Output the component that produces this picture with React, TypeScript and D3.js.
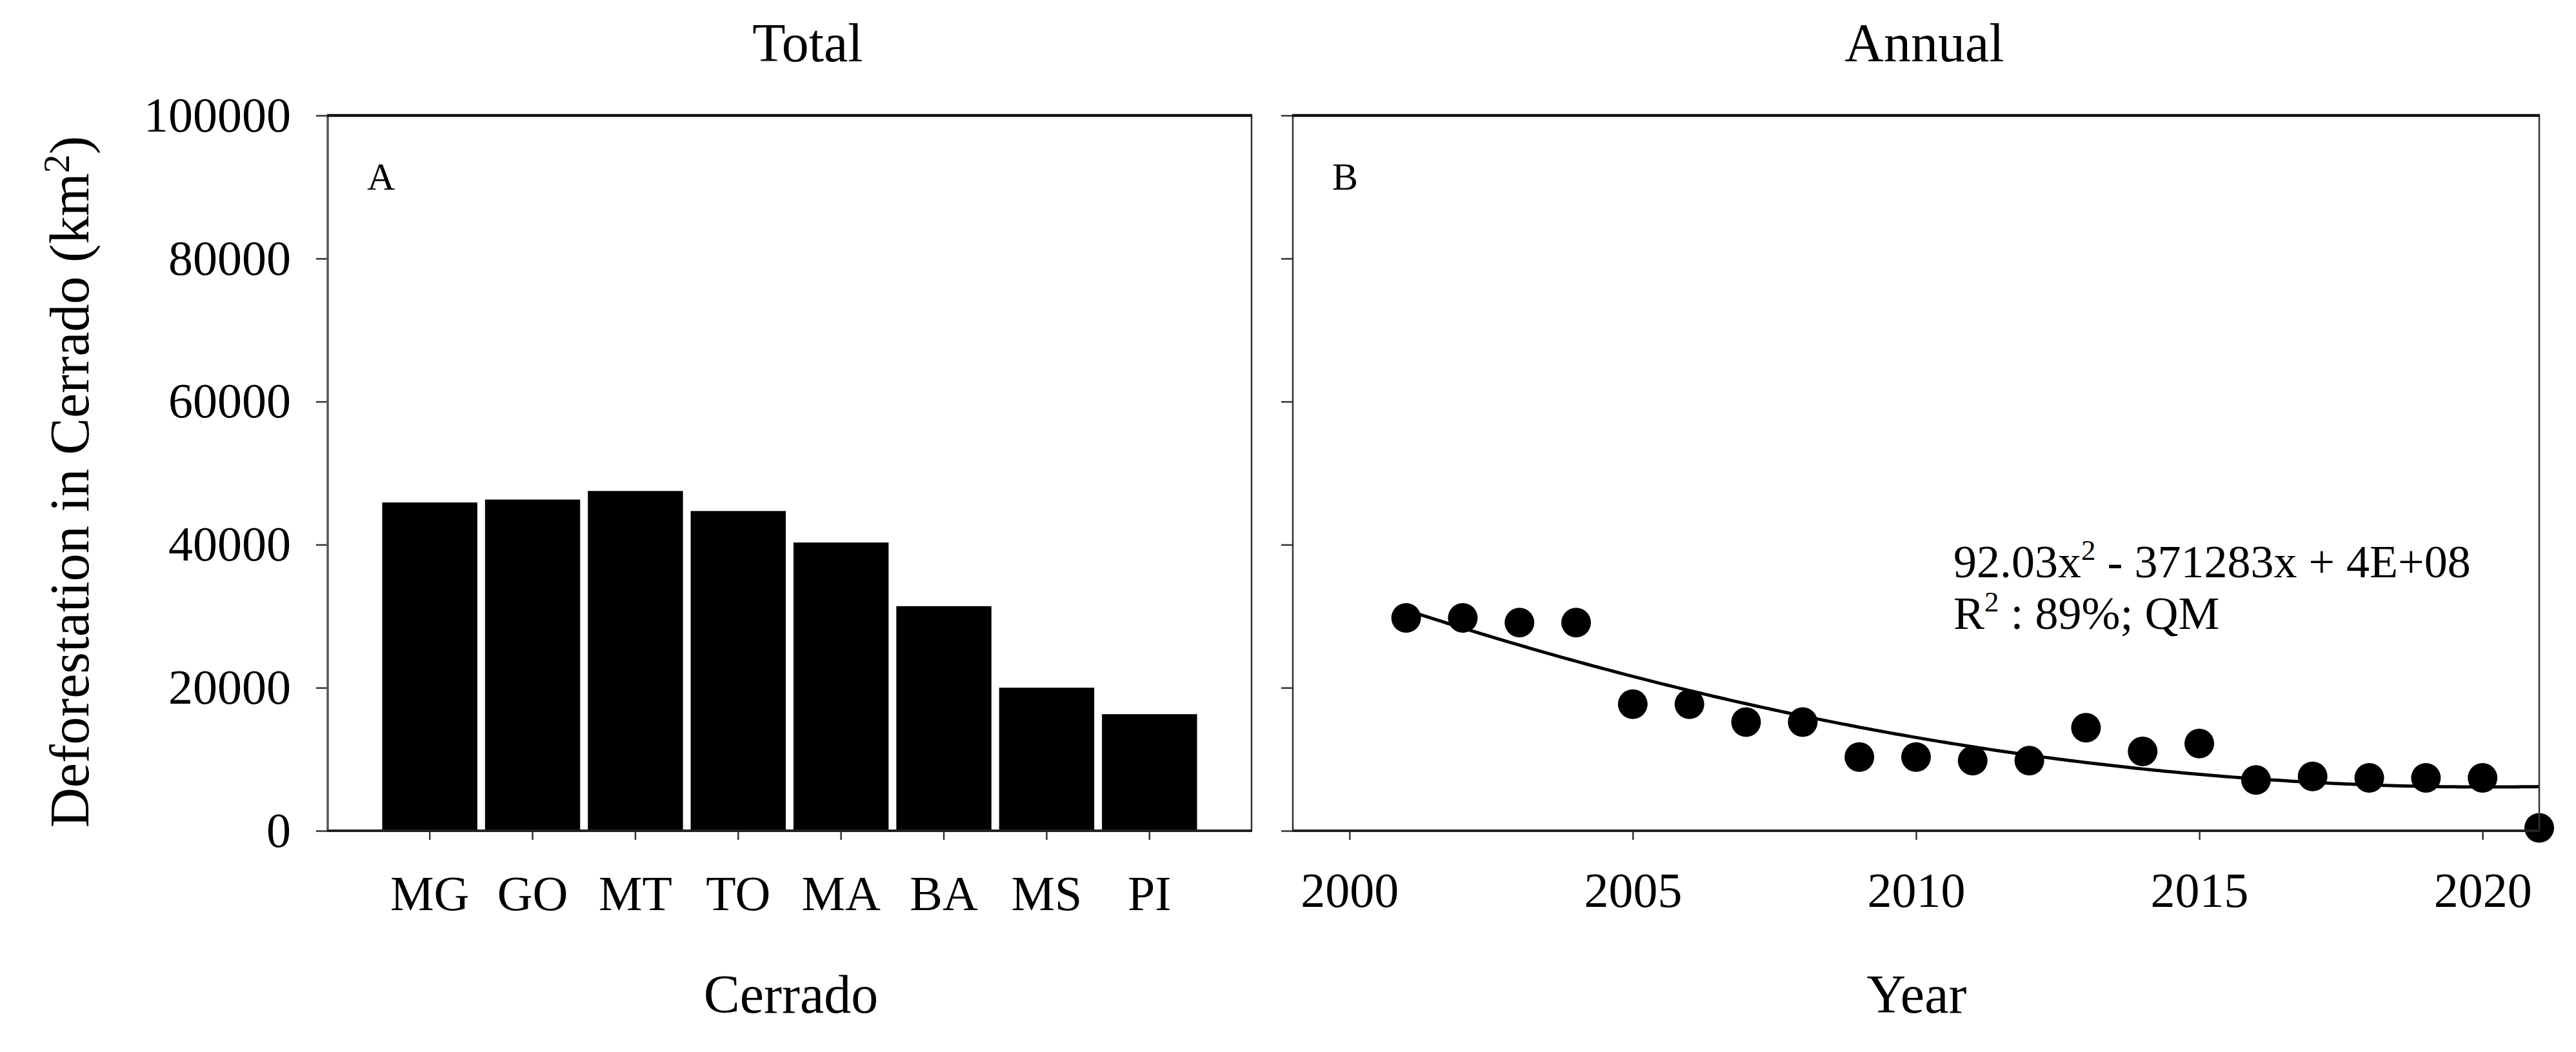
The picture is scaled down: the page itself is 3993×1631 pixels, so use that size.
import { useEffect, useRef } from 'react'
import * as d3 from 'd3'

// panel A: total deforested area per state
const states = ['MG', 'GO', 'MT', 'TO', 'MA', 'BA', 'MS', 'PI']
const stateTotals = [45900, 46300, 47500, 44700, 40300, 31400, 20000, 16300]

// panel B: annual deforested area
const years = [2001, 2002, 2003, 2004, 2005, 2006, 2007, 2008, 2009, 2010, 2011, 2012, 2013, 2014, 2015, 2016, 2017, 2018, 2019, 2020, 2021]
const annualArea = [29750, 29750, 29100, 29100, 17700, 17700, 15200, 15200, 10300, 10300, 9800, 9800, 14400, 11100, 12200, 7100, 7600, 7400, 7400, 7400, 400]

const yTicks = [0, 20000, 40000, 60000, 80000, 100000]
const yearTicks = [2000, 2005, 2010, 2015, 2020]

const W = 3993
const H = 1631
const plotTop = 179
const plotBottom = 1288
const panelA = { left: 508, right: 1940 }
const panelB = { left: 2004, right: 3936 }
const font = "'Liberation Serif', 'Times New Roman', serif"

// least squares quadratic fit (centered x)
const quadFit = (xs: number[], ys: number[]) => {
  const mx = d3.mean(xs)!
  const t = xs.map((x) => x - mx)
  const s = (p: number) => d3.sum(t, (v) => Math.pow(v, p))
  const sy = (p: number) => d3.sum(t, (v, i) => Math.pow(v, p) * ys[i])
  const A = [
    [t.length, s(1), s(2)],
    [s(1), s(2), s(3)],
    [s(2), s(3), s(4)],
  ]
  const b = [sy(0), sy(1), sy(2)]
  // gaussian elimination
  for (let i = 0; i < 3; i++) {
    for (let k = i + 1; k < 3; k++) {
      const f = A[k][i] / A[i][i]
      for (let j = i; j < 3; j++) A[k][j] -= f * A[i][j]
      b[k] -= f * b[i]
    }
  }
  const c = [0, 0, 0]
  for (let i = 2; i >= 0; i--) {
    let v = b[i]
    for (let j = i + 1; j < 3; j++) v -= A[i][j] * c[j]
    c[i] = v / A[i][i]
  }
  return (x: number) => c[0] + c[1] * (x - mx) + c[2] * (x - mx) * (x - mx)
}

const App = () => {
  const svgRef = useRef<SVGSVGElement | null>(null)

  useEffect(() => {
    document.body.style.margin = '0'
    if (!svgRef.current) return
    const svg = d3.select(svgRef.current)
    svg.selectAll('*').remove()

    const y = d3.scaleLinear().domain([0, 100000]).range([plotBottom, plotTop])

    const xA = d3
      .scaleBand<string>()
      .domain(states)
      .range([panelA.left, panelA.right])
      .paddingInner(0.075)
      .paddingOuter(0.53)

    const xB = d3.scaleLinear().domain([1999, 2021]).range([panelB.left, panelB.right])

    const styleAxis = (g: d3.Selection<SVGGElement, unknown, null, undefined>, size: number) => {
      g.select('.domain').remove()
      g.selectAll('.tick line').attr('stroke', '#333').attr('stroke-width', 2.5)
      g.selectAll('.tick text')
        .attr('font-family', font)
        .attr('font-size', size)
        .attr('fill', '#000')
    }

    // ---- panel A ----
    svg
      .append('g')
      .selectAll('rect')
      .data(states)
      .enter()
      .append('rect')
      .attr('x', (d) => xA(d)!)
      .attr('width', xA.bandwidth())
      .attr('y', (_, i) => y(stateTotals[i]))
      .attr('height', (_, i) => plotBottom - y(stateTotals[i]))
      .attr('fill', '#000')

    svg
      .append('g')
      .attr('transform', `translate(${panelA.left},0)`)
      .call(d3.axisLeft(y).tickValues(yTicks).tickSize(18).tickPadding(39).tickFormat(d3.format('d')))
      .call((g) => styleAxis(g, 76))

    svg
      .append('g')
      .attr('transform', `translate(0,${plotBottom})`)
      .call(d3.axisBottom(xA).tickSize(14).tickPadding(55))
      .call((g) => styleAxis(g, 76))

    // ---- panel B ----
    const fit = quadFit(years, annualArea)
    const fitYears = d3.range(years[0], years[years.length - 1] + 0.001, 0.1)
    svg
      .append('path')
      .datum(fitYears)
      .attr('fill', 'none')
      .attr('stroke', '#000')
      .attr('stroke-width', 5)
      .attr(
        'd',
        d3
          .line<number>()
          .x((d) => xB(d))
          .y((d) => y(fit(d)))
      )

    svg
      .append('g')
      .selectAll('circle')
      .data(years)
      .enter()
      .append('circle')
      .attr('cx', (d) => xB(d))
      .attr('cy', (_, i) => y(annualArea[i]))
      .attr('r', 23)
      .attr('fill', '#000')

    svg
      .append('g')
      .attr('transform', `translate(${panelB.left},0)`)
      .call(d3.axisLeft(y).tickValues(yTicks).tickSize(18).tickFormat(() => ''))
      .call((g) => styleAxis(g, 76))

    svg
      .append('g')
      .attr('transform', `translate(0,${plotBottom})`)
      .call(d3.axisBottom(xB).tickValues(yearTicks).tickSize(14).tickPadding(50).tickFormat(d3.format('d')))
      .call((g) => styleAxis(g, 76))

    // ---- frames ----
    const frame = (p: { left: number; right: number }, leftColor: string, leftW: number) => {
      const g = svg.append('g')
      g.append('line').attr('x1', p.left).attr('x2', p.left).attr('y1', plotTop).attr('y2', plotBottom)
        .attr('stroke', leftColor).attr('stroke-width', leftW)
      g.append('line').attr('x1', p.right).attr('x2', p.right).attr('y1', plotTop).attr('y2', plotBottom)
        .attr('stroke', '#333').attr('stroke-width', 2.5)
      g.append('line').attr('x1', p.left - 1).attr('x2', p.right + 1).attr('y1', plotTop).attr('y2', plotTop)
        .attr('stroke', '#111').attr('stroke-width', 4.5)
      g.append('line').attr('x1', p.left - 1).attr('x2', p.right + 1).attr('y1', plotBottom).attr('y2', plotBottom)
        .attr('stroke', '#222').attr('stroke-width', 4)
    }
    frame(panelA, '#555', 3.5)
    frame(panelB, '#333', 2.5)

    // ---- text ----
    const text = (x: number, yy: number, s: string, size: number, anchor = 'middle') =>
      svg
        .append('text')
        .attr('x', x)
        .attr('y', yy)
        .attr('font-family', font)
        .attr('font-size', size)
        .attr('text-anchor', anchor)
        .attr('fill', '#000')
        .text(s)

    text(1252, 95, 'Total', 84)
    text(2983, 95, 'Annual', 84)
    text(1226, 1570, 'Cerrado', 84)
    text(2971, 1570, 'Year', 84)
    text(569, 294, 'A', 60, 'start')
    text(2065, 294, 'B', 60, 'start')

    const yLabel = svg
      .append('text')
      .attr('transform', 'translate(137,747) rotate(-90)')
      .attr('font-family', font)
      .attr('font-size', 86)
      .attr('text-anchor', 'middle')
      .attr('fill', '#000')
    yLabel.append('tspan').text('Deforestation in Cerrado (km')
    yLabel.append('tspan').attr('dy', -30).attr('font-size', 58).text('2')
    yLabel.append('tspan').attr('dy', 30).text(')')

    const eq = svg
      .append('text')
      .attr('x', 3028)
      .attr('y', 895)
      .attr('font-family', font)
      .attr('font-size', 72)
      .attr('fill', '#000')
    eq.append('tspan').text('92.03x')
    eq.append('tspan').attr('dy', -27).attr('font-size', 45).text('2')
    eq.append('tspan').attr('dy', 27).text(' - 371283x + 4E+08')

    const r2 = svg
      .append('text')
      .attr('x', 3028)
      .attr('y', 975)
      .attr('font-family', font)
      .attr('font-size', 72)
      .attr('fill', '#000')
    r2.append('tspan').text('R')
    r2.append('tspan').attr('dy', -27).attr('font-size', 45).text('2')
    r2.append('tspan').attr('dy', 27).text(' : 89%; QM')
  }, [])

  return (
    <svg
      ref={svgRef}
      width={W}
      height={H}
      viewBox={`0 0 ${W} ${H}`}
      style={{ position: 'absolute', left: 0, top: 0, background: '#fff', display: 'block' }}
    />
  )
}

export default App
